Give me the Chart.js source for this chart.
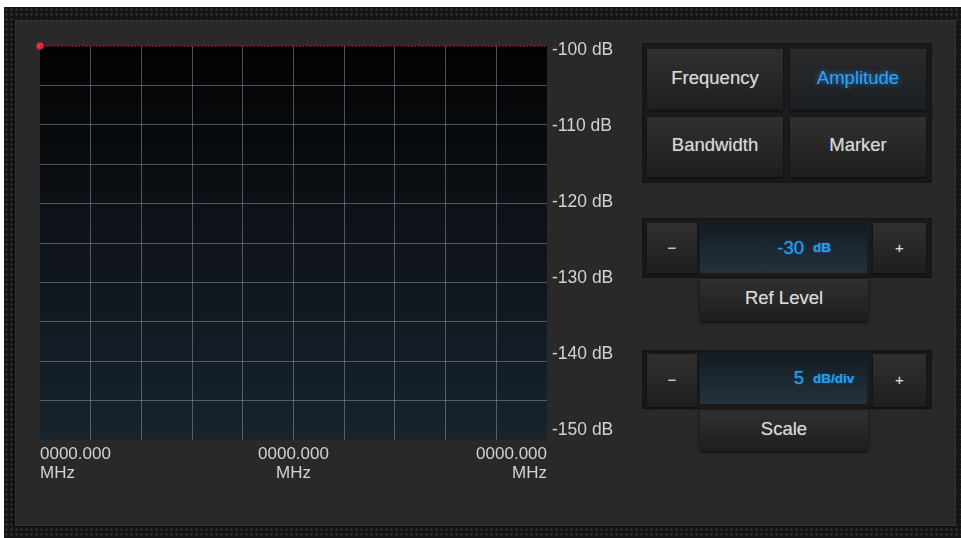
<!DOCTYPE html>
<html>
<head>
<meta charset="utf-8">
<script src="https://cdn.jsdelivr.net/npm/chart.js@4/dist/chart.umd.min.js"></script>
<style>
  body { margin: 0; background: #fff; width: 961px; height: 538px; overflow: hidden; position: relative; font-family: Arial, "Liberation Sans", sans-serif; }
  #frame { position: absolute; left: 4px; top: 7px; width: 957px; height: 531px; background-color: #161616;
    background-image: radial-gradient(circle, #2f2f2f 1px, transparent 1.3px); background-size: 5px 5px; }
  #panel { position: absolute; left: 15px; top: 20px; width: 939px; height: 504px; background: #292929; border: 1px solid #333; box-shadow: 0 0 3px #000; }
  #plot { position: absolute; left: 20px; top: 30px; width: 600px; height: 460px; }
  .grp { position: absolute; background: #1d1d1d; box-shadow: inset 0 0 4px #0c0c0c; }
  .btn { position: absolute; display: flex; align-items: center; justify-content: center; color: #d8d8d8; font-size: 18.5px;
    box-sizing: border-box; padding-bottom: 4px; text-shadow: 0 0 1px rgba(220,220,220,0.5);
    background: linear-gradient(#303030, #1e1e1e); box-shadow: 0 1px 3px #0a0a0a; }
  .btn.on { color: #2ba6f2; text-shadow: 0 0 6px rgba(40,150,255,0.8); background: linear-gradient(#2a2a2a, #1b1f23); }
  .pm { font-size: 15px; padding-bottom: 2px; }
  .disp { position: absolute; background: linear-gradient(#131b21, #24323d); color: #22a0ee; text-shadow: 0 0 2px rgba(40,150,255,0.6); }
  .disp .v { position: absolute; right: 63px; top: 0; height: 100%; display: flex; align-items: center; font-size: 18.5px; }
  .disp .u { position: absolute; left: 113px; top: 0; height: 100%; display: flex; align-items: center; font-size: 13.5px; font-weight: bold; }
</style>
</head>
<body>
<div id="frame"></div>
<div id="panel"></div>
<div id="plot"><canvas id="spectrum"></canvas></div>

<div class="grp" style="left:642px;top:43px;width:290px;height:140px"></div>
<div class="btn" style="left:647px;top:49px;width:136px;height:61px">Frequency</div>
<div class="btn on" style="left:790px;top:49px;width:136px;height:61px">Amplitude</div>
<div class="btn" style="left:647px;top:117px;width:136px;height:60px">Bandwidth</div>
<div class="btn" style="left:790px;top:117px;width:136px;height:60px">Marker</div>

<div class="grp" style="left:642px;top:218px;width:290px;height:60px"></div>
<div class="btn pm" style="left:647px;top:223px;width:50px;height:50px">&minus;</div>
<div class="disp" style="left:700px;top:222px;width:167px;height:51px"><span class="v">-30</span><span class="u">dB</span></div>
<div class="btn pm" style="left:873px;top:223px;width:53px;height:50px">+</div>
<div class="btn" style="left:700px;top:279px;width:168px;height:42px">Ref Level</div>

<div class="grp" style="left:642px;top:350px;width:290px;height:59px"></div>
<div class="btn pm" style="left:647px;top:354px;width:50px;height:53px">&minus;</div>
<div class="disp" style="left:700px;top:352px;width:167px;height:52px"><span class="v">5</span><span class="u">dB/div</span></div>
<div class="btn pm" style="left:873px;top:354px;width:53px;height:53px">+</div>
<div class="btn" style="left:700px;top:411px;width:168px;height:40px">Scale</div>

<script>
// grid divisions (frequency span split in 10, 5 dB per division)
const xDivs = [0, 1, 2, 3, 4, 5, 6, 7, 8, 9, 10];
const yGridMin = -150, yGridMax = -100, yStep = 5;
const yTickValues = [-150, -140, -130, -120, -110, -100];
const xLabelPos = [0, 5, 10];
const xLabelText = ['0000.000', '0000.000', '0000.000'];
const xUnit = 'MHz';
// trace sits pinned at the reference level
const traceLevels = [-100, -100, -100, -100, -100, -100, -100, -100, -100, -100, -100];
const markerPos = [{ x: 0, y: -100 }];

const labelColor = '#d2d2d2';
const gridColor = 'rgba(150,156,162,0.5)';

const plotBg = {
    id: 'plotBg',
    beforeDraw(chart) {
        const a = chart.chartArea, ctx = chart.ctx;
        const g = ctx.createLinearGradient(0, a.top, 0, a.bottom);
        g.addColorStop(0, '#020202');
        g.addColorStop(0.4, '#0c1116');
        g.addColorStop(1, '#17232d');
        ctx.save();
        ctx.fillStyle = g;
        ctx.fillRect(a.left, a.top, a.right - a.left, a.bottom - a.top);
        ctx.restore();
    }
};

const hideEdges = (c) => (c.index === 0 || c.index === c.scale.ticks.length - 1) ? 'rgba(0,0,0,0)' : gridColor;

new Chart(document.getElementById('spectrum'), {
    type: 'line',
    data: {
        datasets: [{
            data: traceLevels.map((v, i) => ({ x: xDivs[i], y: v })),
            borderColor: '#a8102a',
            borderWidth: 1.5,
            borderDash: [1.5, 2],
            pointRadius: 0,
            clip: 6,
            yAxisID: 'y'
        }, {
            data: markerPos,
            showLine: false,
            pointRadius: 3,
            pointBackgroundColor: '#ff2b58',
            pointBorderColor: 'rgba(255,40,80,0.3)',
            pointBorderWidth: 3,
            clip: 8,
            yAxisID: 'y'
        }]
    },
    options: {
        responsive: true,
        maintainAspectRatio: false,
        animation: false,
        layout: { padding: { left: 20, top: 16, right: 0, bottom: 0 } },
        plugins: { legend: { display: false }, tooltip: { enabled: false } },
        scales: {
            x: {
                type: 'linear',
                min: xDivs[0],
                max: xDivs[xDivs.length - 1],
                afterBuildTicks: (s) => { s.ticks = xDivs.map(v => ({ value: v })); },
                afterFit: (s) => { s.height = 50; },
                border: { display: false },
                grid: { color: hideEdges, drawTicks: false, lineWidth: 1 },
                ticks: {
                    autoSkip: false,
                    maxRotation: 0,
                    align: 'inner',
                    padding: 5,
                    color: labelColor,
                    font: { family: 'Arial, "Liberation Sans"', size: 17, lineHeight: 1.12 },
                    callback: (v) => {
                        const k = xLabelPos.indexOf(v);
                        return k < 0 ? '' : [xLabelText[k], xUnit];
                    }
                }
            },
            y: {
                position: 'right',
                min: yGridMin,
                max: yGridMax,
                afterFit: (s) => { s.width = 0; },
                border: { display: false },
                grid: { color: hideEdges, drawTicks: false, lineWidth: 1 },
                ticks: { display: false, stepSize: yStep }
            },
            yl: {
                position: 'right',
                min: -151.32,
                max: -99.47,
                afterBuildTicks: (s) => { s.ticks = yTickValues.map(v => ({ value: v })); },
                afterFit: (s) => { s.width = 73; },
                border: { display: false },
                grid: { display: false, drawTicks: false },
                ticks: {
                    padding: 5,
                    color: labelColor,
                    font: { family: 'Arial, "Liberation Sans"', size: 17.5 },
                    callback: (v) => v + ' dB'
                }
            }
        }
    },
    plugins: [plotBg]
});
</script>
</body>
</html>
